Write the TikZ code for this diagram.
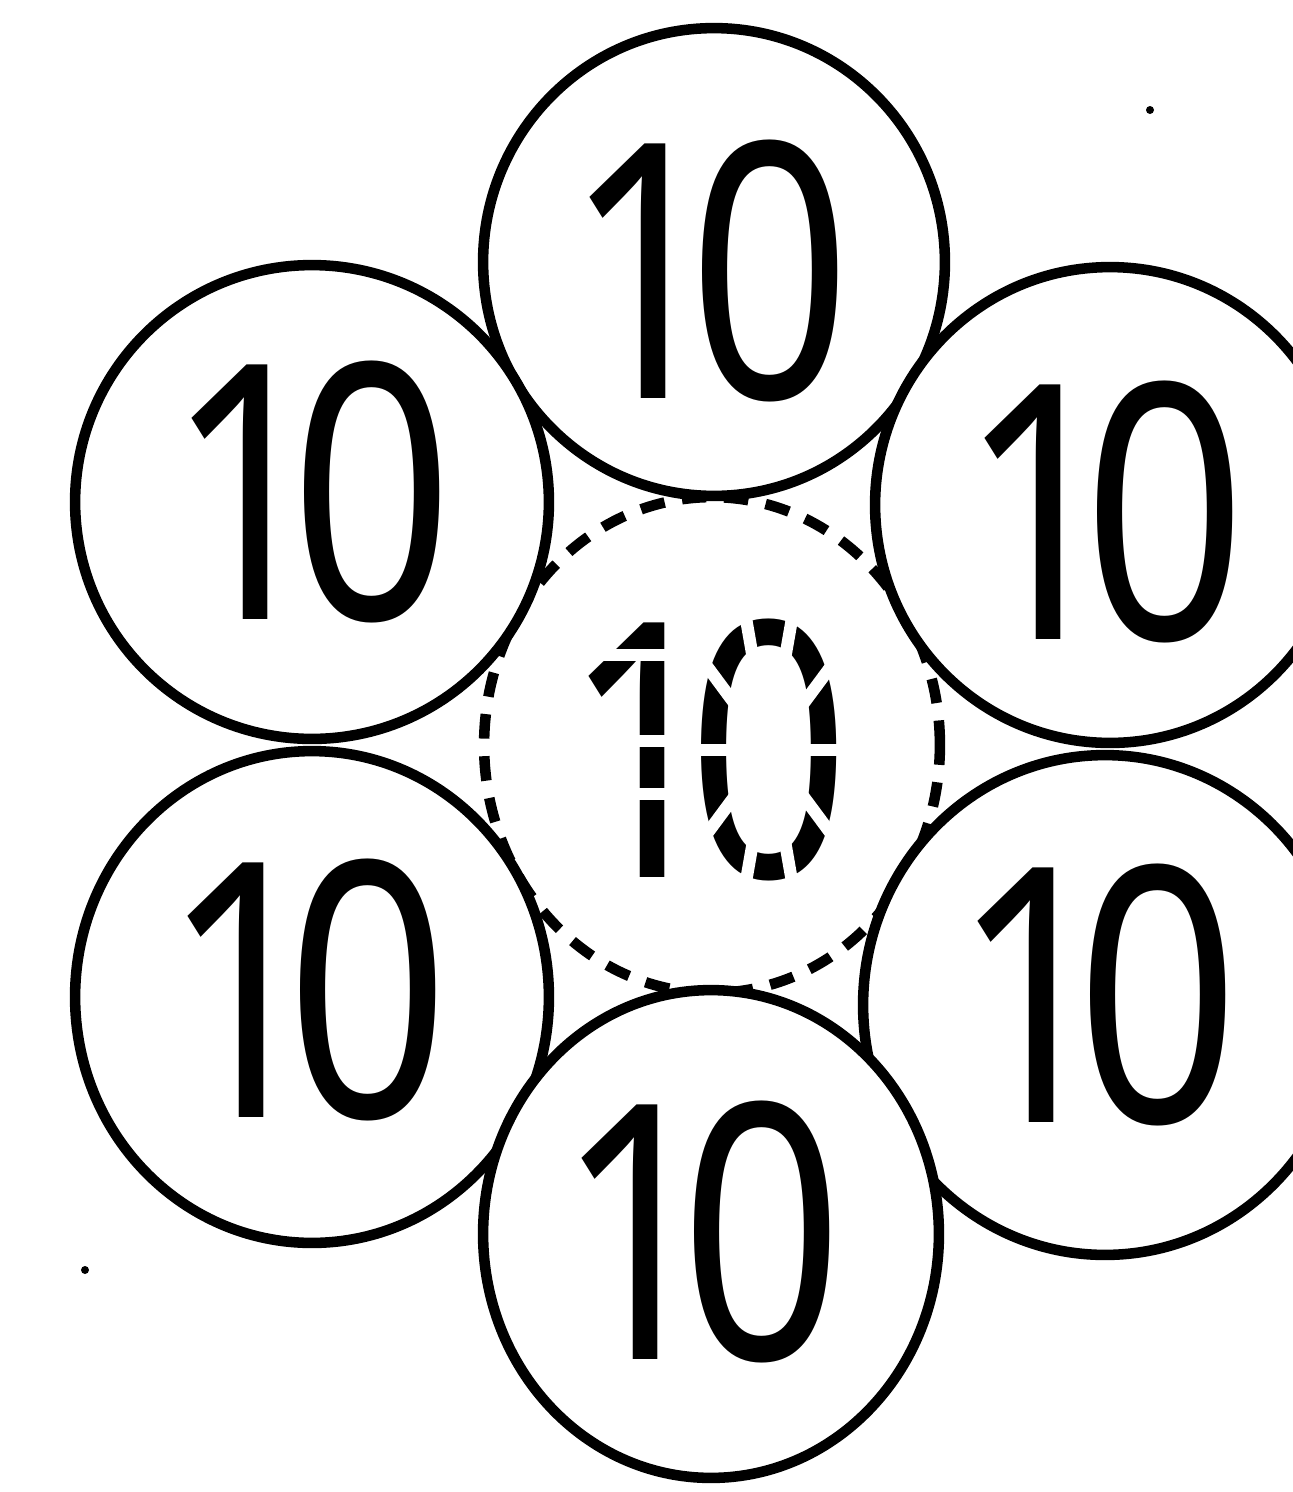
\documentclass[tikz,border=0pt]{standalone}
\usepackage{fontspec}
\setmainfont{Noto Sans}
\usetikzlibrary{shapes.geometric}
\begin{document}
\begin{tikzpicture}[x=0.02cm,y=-0.02cm,
  ring/.style 2 args={ellipse, draw=black, fill=white, line width=6pt,
    minimum width=#1*0.04cm, minimum height=#2*0.04cm, inner sep=0pt},
  hidden/.style 2 args={ellipse, draw=black, line width=6pt, dash pattern=on 14pt off 10pt,
    minimum width=#1*0.04cm, minimum height=#2*0.04cm, inner sep=0pt},
  digits/.style={inner sep=0pt, font=\fontsize{203}{203}\selectfont},
  gapline/.style={white, line width=7pt},
  speck/.style={circle, fill=black, inner sep=0pt, minimum size=0.16cm}]
\clip (0,0) rectangle (1293,1492);
\fill[white] (0,0) rectangle (1293,1492);
% hidden centre
\node[hidden={228}{248}] (c) at (712,745) {};
% outer rings
\node[ring={231}{234}] (t)  at (714,262) {};
\node[ring={237}{237}] (ul) at (312,502) {};
\node[ring={235}{238}] (ur) at (1110,505) {};
\node[ring={237}{246}] (ll) at (312,997) {};
\node[ring={242}{250}] (lr) at (1105,1005) {};
\node[ring={228}{244}] (b)  at (711,1234) {};
% labels
\newcommand\ten{\scalebox{0.8}[1]{1\kern-28pt0}}
\node[digits] (tt)  at (708,271)  {\ten};
\node[digits] (tul) at (310,492)  {\ten};
\node[digits] (tur) at (1103,512) {\ten};
\node[digits] (tll) at (306,990)  {\ten};
\node[digits] (tlr) at (1096,995) {\ten};
\node[digits] (tb)  at (700,1232) {\ten};
\node[digits] (tc)  at (707,750)  {\ten};
% dashed look for the centre label
\coordinate (oc) at (769,750);
\foreach \t in {0,36,...,324}
  \draw[gapline] ([shift={({0.45*70*cos(\t)},{-0.45*130*sin(\t)})}]oc)
              -- ([shift={({1.4*70*cos(\t)},{-1.4*130*sin(\t)})}]oc);
\foreach \yy in {655,741,794}
  \draw[gapline] (580,\yy) -- (685,\yy);
% specks
\node[speck] (s1) at (1150,110) {};
\node[speck] (s2) at (85,1270) {};
\end{tikzpicture}
\end{document}
